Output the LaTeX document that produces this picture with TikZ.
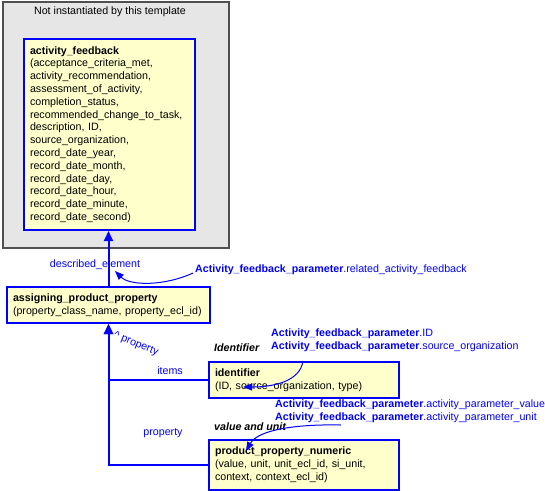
\documentclass[tikz,border=0pt]{standalone}
\usepackage{fontspec}
\setmainfont{Liberation Sans}
\usetikzlibrary{arrows.meta}
\definecolor{boxfill}{RGB}{255,255,204}
\definecolor{tmplfill}{RGB}{230,230,230}
\definecolor{tmpldraw}{RGB}{80,80,80}
\definecolor{lblblue}{RGB}{0,0,255}
\tikzset{
  fnt/.style={font=\fontsize{10.67}{12.8}\selectfont},
  ebox/.style={fnt, draw=blue, line width=2pt, fill=boxfill, anchor=north west,
    inner xsep=6pt, inner ysep=0pt, align=left},
  conn/.style={draw=blue, line width=2pt, -{Triangle[length=10pt,width=9pt]}},
  ptr/.style={draw=blue, line width=1pt, -{Triangle[length=9pt,width=7pt]}},
  rolelbl/.style={fnt, text=lblblue, inner sep=0pt},
  reflbl/.style={fnt, text=lblblue, inner sep=0pt, anchor=west, align=left},
  typelbl/.style={fnt, inner sep=0pt, anchor=west, font=\fontsize{10.67}{12.8}\selectfont\bfseries\itshape},
}
\begin{document}
\begin{tikzpicture}[x=1pt,y=-1pt]
\useasboundingbox (0,0) rectangle (545,490);
\node (tmpl) [draw=tmpldraw, line width=1.5pt, fill=tmplfill, anchor=north west,
  minimum width=226pt, minimum height=246pt, inner sep=0pt] at (2,1) {};
\node (tmpltitle) [fnt, inner sep=0pt] at (110,12) {Not instantiated by this template};
\node (af) [ebox, minimum width=171pt, minimum height=191pt, text width=159pt] at (23,38)
 {\textbf{activity\_feedback}\\(acceptance\_criteria\_met,\\activity\_recommendation,\\assessment\_of\_activity,\\completion\_status,\\recommended\_change\_to\_task,\\description, ID,\\source\_organization,\\record\_date\_year,\\record\_date\_month,\\record\_date\_day,\\record\_date\_hour,\\record\_date\_minute,\\record\_date\_second)};
\node (app) [ebox, minimum width=203pt, minimum height=36pt, text width=191pt] at (6,286)
 {\textbf{assigning\_product\_property}\\(property\_class\_name, property\_ecl\_id)};
\node (ident) [ebox, minimum width=190pt, minimum height=36pt, text width=178pt] at (208,361)
 {\textbf{identifier}\\(ID, source\_organization, type)};
\node (ppn) [ebox, minimum width=190pt, minimum height=50pt, text width=178pt] at (208,439)
 {\textbf{product\_property\_numeric}\\(value, unit, unit\_ecl\_id, si\_unit,\\context, context\_ecl\_id)};
% connectors
\draw[conn] (app.north) -- (app.north |- af.south);
\draw[conn] (ident.west) -| (app.south);
\draw[conn] (ppn.west) -| (app.south);
% role labels
\node (lde) [rolelbl] at (95,265) {described\_element};
\node (litems) [rolelbl] at (170,371) {items};
\node (lprop) [rolelbl] at (163,433) {property};
\node (lprop2) [rolelbl, rotate=-22] at (136,344) {\textasciicircum{} property};
% type labels
\node (tident) [typelbl] at (214,348) {Identifier};
\node (tval) [typelbl] at (214,427) {value and unit};
% reference labels
\node (r1) [reflbl] at (195,270) {\textbf{Activity\_feedback\_parameter}.related\_activity\_feedback};
\node (r2) [reflbl] at (271,340) {\textbf{Activity\_feedback\_parameter}.ID\\\textbf{Activity\_feedback\_parameter}.source\_organization};
\node (r3) [reflbl] at (275,411) {\textbf{Activity\_feedback\_parameter}.activity\_parameter\_value\\\textbf{Activity\_feedback\_parameter}.activity\_parameter\_unit};
\coordinate (c1) at (193,273);
\coordinate (t1) at (115,271);
\coordinate (c2) at (303,361);
\coordinate (t2) at (243,387);
\coordinate (c3) at (341,425);
\coordinate (t3) at (246,451);
\draw[ptr] (c1) .. controls (165,286) and (130,286) .. (t1);
\draw[ptr] (c2) .. controls (300,382) and (272,387) .. (t2);
\draw[ptr] (c3) .. controls (295,424) and (258,430) .. (t3);
\end{tikzpicture}
\end{document}
